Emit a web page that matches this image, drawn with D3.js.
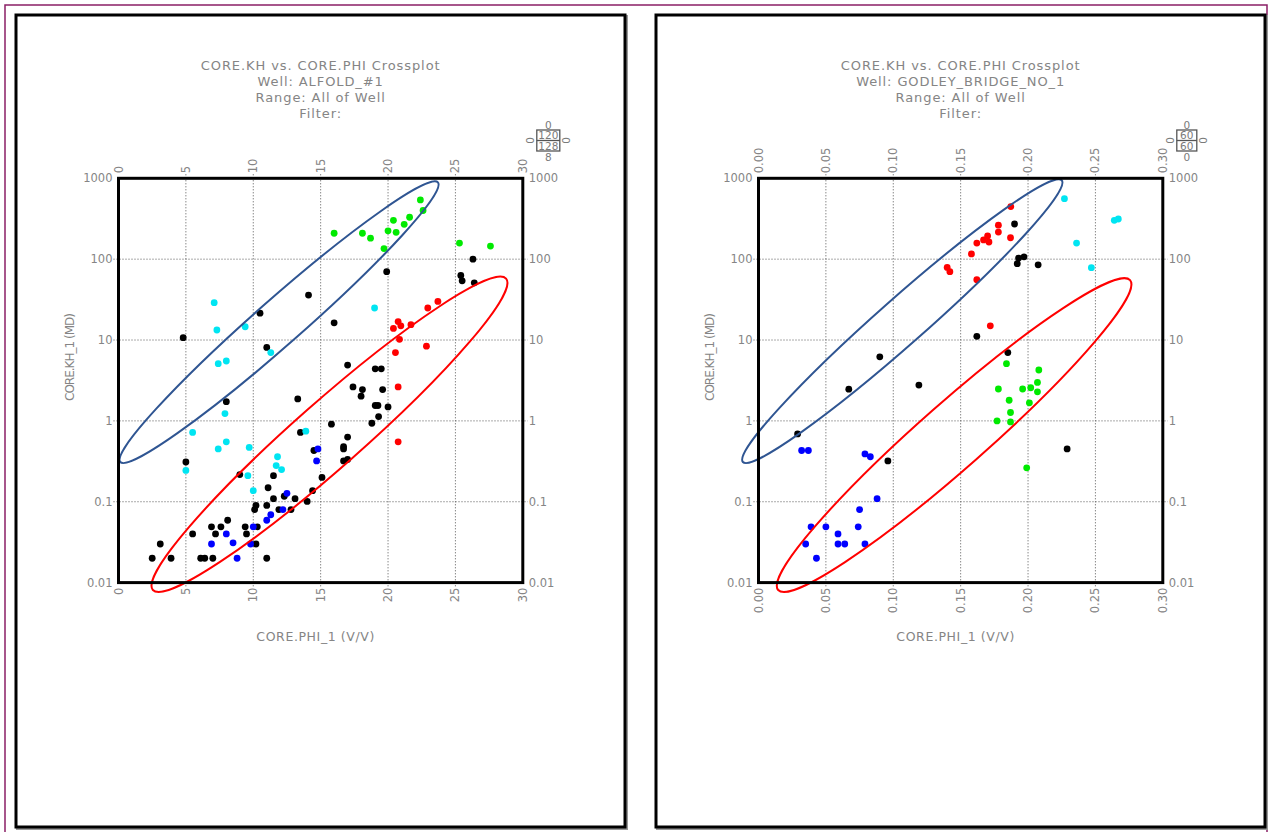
<!DOCTYPE html>
<html>
<head>
<meta charset="utf-8">
<script src="https://cdn.jsdelivr.net/npm/d3@7"></script>
<style>
  body { margin: 0; background: #fff; }
  svg { display: block; font-family: "DejaVu Sans", sans-serif; }
  .lbl { fill: #858585; }
  .grid line { stroke: #555; stroke-width: 1; stroke-dasharray: 1,2; }
</style>
</head>
<body>
<svg id="chart" width="1270" height="832"></svg>
<script>
// ALFOLD_#1 : [phi (%), kh (md)]
var alfoldBlack = [
  [26.3,100],[19.9,70],[25.4,63],[25.5,54],[26.4,51],[14.1,36],[10.5,21.5],[16.0,16.3],
  [4.8,10.7],[11.0,8.1],[17.0,4.9],[19.05,4.4],[19.5,4.4],[17.4,2.63],[18.1,2.44],
  [18.0,2.02],[19.6,2.44],[13.3,1.87],[19.05,1.55],[19.25,1.55],[20.0,1.49],[19.3,1.13],
  [18.8,0.935],[15.8,0.91],[8.0,1.73],[13.5,0.72],[17.0,0.63],[16.7,0.48],[16.7,0.45],
  [17.0,0.333],[16.7,0.32],[14.5,0.43],[5.0,0.31],[9.0,0.217],[11.5,0.21],[15.1,0.2],
  [11.1,0.149],[14.4,0.137],[11.5,0.109],[12.3,0.117],[13.1,0.109],[14.0,0.101],
  [10.2,0.09],[10.1,0.08],[11.0,0.09],[11.9,0.08],[12.8,0.08],[8.1,0.059],[6.9,0.049],
  [7.6,0.049],[9.4,0.049],[10.3,0.049],[5.5,0.04],[7.2,0.04],[9.5,0.04],[3.1,0.03],
  [10.2,0.03],[2.5,0.02],[3.9,0.02],[6.1,0.02],[6.4,0.02],[7.0,0.02],[11.0,0.02]
];
var alfoldCyan = [
  [7.1,29],[7.3,13.3],[9.4,14.6],[11.3,7.0],[7.4,5.1],[8.0,5.5],[19.0,24.9],[7.9,1.23],
  [5.5,0.72],[8.0,0.55],[7.4,0.45],[9.7,0.47],[5.0,0.244],[9.6,0.21],[11.8,0.36],
  [11.7,0.28],[12.1,0.25],[10.0,0.137],[13.9,0.745]
];
var alfoldGreen = [
  [16.0,209],[18.1,209],[18.7,182],[19.7,135],[20.0,224],[20.4,302],[20.6,215],[21.2,270],
  [21.6,330],[22.4,540],[22.6,400],[25.3,158],[27.6,145]
];
var alfoldRed = [
  [22.95,24.9],[23.7,30],[20.75,16.9],[20.95,15.0],[21.7,15.5],[20.4,13.9],[20.85,10.2],
  [20.55,7.0],[22.85,8.4],[20.75,2.63],[20.75,0.55]
];
var alfoldBlue = [
  [14.8,0.45],[14.7,0.32],[12.5,0.127],[12.2,0.08],[11.3,0.069],[11.0,0.059],[10.0,0.049],
  [8.0,0.04],[6.9,0.03],[8.5,0.031],[9.8,0.03],[8.8,0.02]
];

// GODLEY_BRIDGE_NO_1 : [phi (v/v), kh (md)]
var godleyBlack = [
  [0.190,272],[0.193,103],[0.197,107],[0.192,88],[0.2075,85],[0.162,11.1],[0.185,7.0],
  [0.090,6.2],[0.067,2.47],[0.119,2.77],[0.029,0.69],[0.096,0.32],[0.229,0.45]
];
var godleyCyan = [[0.227,560],[0.236,158],[0.247,78.5],[0.264,302],[0.267,314]];
var godleyGreen = [
  [0.184,5.1],[0.208,4.26],[0.207,2.99],[0.178,2.48],[0.196,2.48],[0.202,2.57],[0.207,2.29],
  [0.186,1.8],[0.201,1.67],[0.187,1.27],[0.177,1.0],[0.187,0.97],[0.199,0.263]
];
var godleyRed = [
  [0.1872,447],[0.178,263],[0.178,216],[0.187,184],[0.170,194],[0.167,173],[0.171,163],
  [0.162,158],[0.158,116],[0.140,79],[0.142,70],[0.162,55.7],[0.172,15.0]
];
var godleyBlue = [
  [0.032,0.43],[0.037,0.43],[0.079,0.39],[0.083,0.36],[0.088,0.109],[0.075,0.08],
  [0.039,0.049],[0.050,0.049],[0.074,0.049],[0.059,0.04],[0.035,0.03],[0.059,0.03],
  [0.064,0.03],[0.079,0.03],[0.043,0.02]
];

// ellipse zones: two tips of the long axis [phi, kh], plus width ratio
var alfoldBlueZone = {tips: [[0.13,0.31],[23.7,890]], ratio: 0.108};
var alfoldRedZone  = {tips: [[2.55,0.0081],[28.76,57.5]], ratio: 0.14};
var godleyBlueZone = {tips: [[-0.0116,0.31],[0.225,945]], ratio: 0.108};
var godleyRedZone  = {tips: [[0.0146,0.0081],[0.2757,55]], ratio: 0.14};

var yTicks = [0.01, 0.1, 1, 10, 100, 1000];
var alfoldXTicks = [0, 5, 10, 15, 20, 25, 30];
var godleyXTicks = [0, 0.05, 0.10, 0.15, 0.20, 0.25, 0.30];

var titleLine1 = "CORE.KH vs. CORE.PHI Crossplot";
var alfoldWell = "Well:  ALFOLD_#1";
var godleyWell = "Well:  GODLEY_BRIDGE_NO_1";
var rangeLine = "Range:  All of Well";
var filterLine = "Filter:";
var xTitle = "CORE.PHI_1  (V/V)";
var yTitle = "CORE.KH_1  (MD)";

var alfoldBox = {top: "0", rows: ["120", "128"], bottom: "8"};
var godleyBox = {top: "0", rows: ["60", "60"], bottom: "0"};

var colors = {black: "#000000", cyan: "#00e5f2", green: "#00ea00", red: "#ff0000", blue: "#0000ff"};

var svg = d3.select("#chart");

// purple page border
svg.append("rect")
  .attr("x", 5).attr("y", 5).attr("width", 1262).attr("height", 840)
  .attr("fill", "none").attr("stroke", "#8a1f66").attr("stroke-width", 1.5);

function drawPanel(cfg) {
  var g = svg.append("g").attr("transform", "translate(" + cfg.ox + ",0)");

  // page frame with a slight shadow
  g.append("rect").attr("x", 17.5).attr("y", 16.5).attr("width", 609).attr("height", 812)
    .attr("fill", "none").attr("stroke", "#999").attr("stroke-width", 3);
  g.append("rect").attr("x", 16).attr("y", 15).attr("width", 609).attr("height", 812)
    .attr("fill", "#fff").attr("stroke", "#000").attr("stroke-width", 3);

  var left = 118.5, top = 178.3, size = 404.3;
  var x = d3.scaleLinear().domain(cfg.xDomain).range([left, left + size]);
  var y = d3.scaleLog().domain([0.01, 1000]).range([top + size, top]);

  // titles
  var tl = [titleLine1, cfg.well, rangeLine, filterLine];
  g.selectAll(".title").data(tl).enter().append("text")
    .attr("class", "lbl")
    .attr("x", left + size / 2)
    .attr("y", function(d, i) { return 70 + i * 16; })
    .attr("text-anchor", "middle")
    .attr("font-size", 13)
    .attr("letter-spacing", 0.9)
    .text(function(d) { return d; });

  // grid
  var grid = g.append("g").attr("class", "grid");
  grid.selectAll(".vx").data(cfg.xTicks.slice(1, -1)).enter().append("line")
    .attr("x1", function(d) { return x(d); }).attr("x2", function(d) { return x(d); })
    .attr("y1", top - 4).attr("y2", top + size + 4);
  grid.selectAll(".hy").data(yTicks.slice(1, -1)).enter().append("line")
    .attr("y1", function(d) { return y(d); }).attr("y2", function(d) { return y(d); })
    .attr("x1", left - 5).attr("x2", left + size + 5);

  // tick labels
  g.selectAll(".ty").data(yTicks).enter().append("text")
    .attr("class", "lbl").attr("font-size", 11.5)
    .attr("x", left - 6).attr("y", function(d) { return y(d) + 4; })
    .attr("text-anchor", "end").text(function(d) { return d; });
  g.selectAll(".ty2").data(yTicks).enter().append("text")
    .attr("class", "lbl").attr("font-size", 11.5)
    .attr("x", left + size + 6).attr("y", function(d) { return y(d) + 4; })
    .attr("text-anchor", "start").text(function(d) { return d; });

  g.selectAll(".tx").data(cfg.xTicks).enter().append("text")
    .attr("class", "lbl").attr("font-size", 11.5)
    .attr("transform", function(d) { return "translate(" + (x(d) + 4) + "," + (top - 5) + ") rotate(-90)"; })
    .attr("text-anchor", "start").text(cfg.fmt);
  g.selectAll(".tx2").data(cfg.xTicks).enter().append("text")
    .attr("class", "lbl").attr("font-size", 11.5)
    .attr("transform", function(d) { return "translate(" + (x(d) + 4) + "," + (top + size + 5) + ") rotate(-90)"; })
    .attr("text-anchor", "end").text(cfg.fmt);

  // axis titles
  g.append("text").attr("class", "lbl").attr("font-size", 12.5).attr("letter-spacing", 0.6)
    .attr("x", left + size / 2 - 5).attr("y", 641).attr("text-anchor", "middle").text(xTitle);
  g.append("text").attr("class", "lbl").attr("font-size", 12)
    .attr("textLength", 88).attr("lengthAdjust", "spacing")
    .attr("transform", "translate(74,357) rotate(-90)").attr("text-anchor", "middle").text(yTitle);

  // points
  var sets = [
    [cfg.black, colors.black], [cfg.cyan, colors.cyan], [cfg.green, colors.green],
    [cfg.red, colors.red], [cfg.blue, colors.blue]
  ];
  sets.forEach(function(s) {
    g.append("g").selectAll("circle").data(s[0]).enter().append("circle")
      .attr("cx", function(d) { return x(d[0]); })
      .attr("cy", function(d) { return y(d[1]); })
      .attr("r", 3.4)
      .attr("fill", s[1]);
  });

  // zone ellipses
  function zone(z, color) {
    var p1 = [x(z.tips[0][0]), y(z.tips[0][1])];
    var p2 = [x(z.tips[1][0]), y(z.tips[1][1])];
    var cx = (p1[0] + p2[0]) / 2, cy = (p1[1] + p2[1]) / 2;
    var a = Math.hypot(p2[0] - p1[0], p2[1] - p1[1]) / 2;
    var ang = Math.atan2(p2[1] - p1[1], p2[0] - p1[0]) * 180 / Math.PI;
    g.append("ellipse")
      .attr("transform", "translate(" + cx + "," + cy + ") rotate(" + ang + ")")
      .attr("rx", a).attr("ry", a * z.ratio)
      .attr("fill", "none").attr("stroke", color).attr("stroke-width", 2);
  }
  zone(cfg.blueZone, "#2f5592");
  zone(cfg.redZone, "#ff0000");

  // plot frame
  g.append("rect").attr("x", left).attr("y", top).attr("width", size).attr("height", size)
    .attr("fill", "none").attr("stroke", "#000").attr("stroke-width", 3);

  // small legend box
  var bx = left + size + 14, by = 130, bw = cfg.boxW, bh = 10.5;
  var box = g.append("g").attr("font-size", 10.5).attr("fill", "#7a7a7a");
  box.append("rect").attr("x", bx).attr("y", by).attr("width", bw).attr("height", bh * 2)
    .attr("fill", "#fff").attr("stroke", "#555").attr("stroke-width", 1.3);
  box.append("line").attr("x1", bx).attr("x2", bx + bw).attr("y1", by + bh).attr("y2", by + bh)
    .attr("stroke", "#555").attr("stroke-width", 1.3);
  box.selectAll(".row").data(cfg.box.rows).enter().append("text")
    .attr("x", bx + bw / 2).attr("y", function(d, i) { return by + bh * i + 9; })
    .attr("text-anchor", "middle").text(function(d) { return d; });
  box.append("text").attr("x", bx + bw / 2).attr("y", by - 1.5).attr("text-anchor", "middle").text(cfg.box.top);
  box.append("text").attr("x", bx + bw / 2).attr("y", by + bh * 2 + 9.5).attr("text-anchor", "middle").text(cfg.box.bottom);
  box.append("text").attr("transform", "translate(" + (bx - 3) + "," + (by + bh) + ") rotate(-90)")
    .attr("text-anchor", "middle").text("0");
  box.append("text").attr("transform", "translate(" + (bx + bw + 10) + "," + (by + bh) + ") rotate(-90)")
    .attr("text-anchor", "middle").text("0");
}

drawPanel({
  ox: 0, xDomain: [0, 30], xTicks: alfoldXTicks, fmt: d3.format("d"), well: alfoldWell,
  black: alfoldBlack, cyan: alfoldCyan, green: alfoldGreen, red: alfoldRed, blue: alfoldBlue,
  blueZone: alfoldBlueZone, redZone: alfoldRedZone, box: alfoldBox, boxW: 23
});
drawPanel({
  ox: 640, xDomain: [0, 0.3], xTicks: godleyXTicks, fmt: d3.format(".2f"), well: godleyWell,
  black: godleyBlack, cyan: godleyCyan, green: godleyGreen, red: godleyRed, blue: godleyBlue,
  blueZone: godleyBlueZone, redZone: godleyRedZone, box: godleyBox, boxW: 20
});
</script>
</body>
</html>
